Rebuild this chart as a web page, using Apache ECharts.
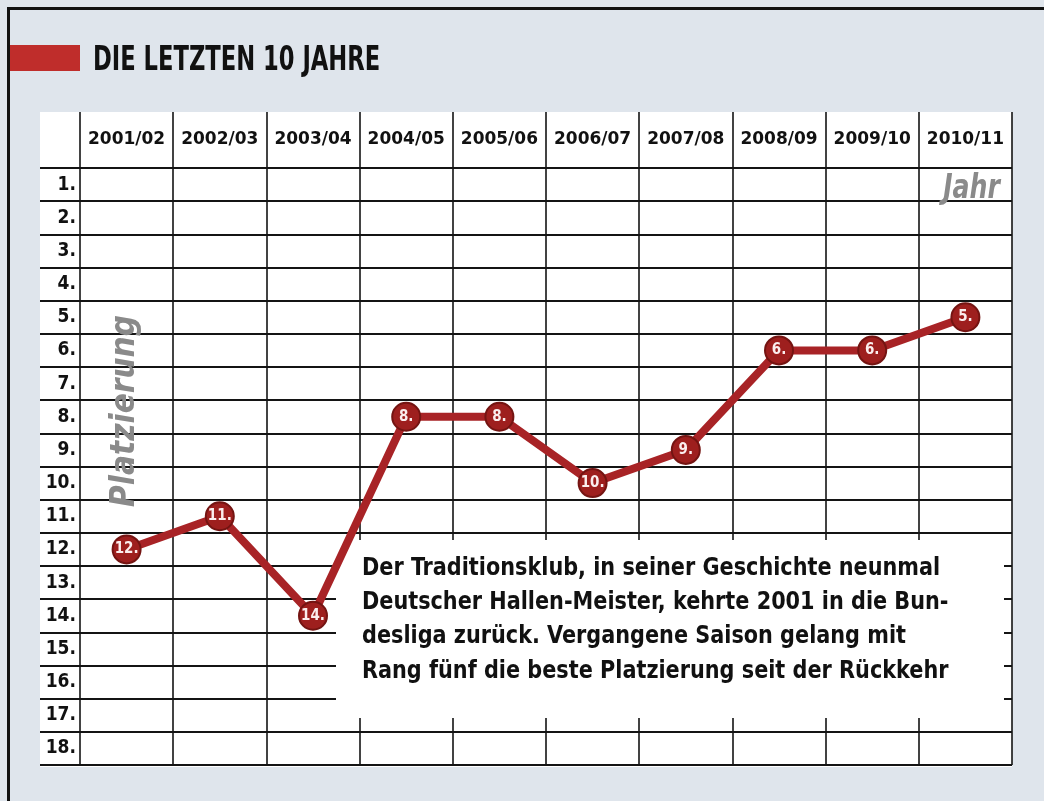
<!DOCTYPE html>
<html>
<head>
<meta charset="utf-8">
<script src="https://cdn.jsdelivr.net/npm/echarts@6/dist/echarts.min.js"></script>
<style>html,body{margin:0;padding:0;background:#dfe5ec;}#c{width:1044px;height:801px;}</style>
</head>
<body>
<div id="c"></div>
<script>
// ---- data ----
var seasons = ['2001/02','2002/03','2003/04','2004/05','2005/06','2006/07','2007/08','2008/09','2009/10','2010/11'];
var ranks = [12, 11, 14, 8, 8, 10, 9, 6, 6, 5];
var rankLabels = ['1.','2.','3.','4.','5.','6.','7.','8.','9.','10.','11.','12.','13.','14.','15.','16.','17.','18.'];
var titleText = 'DIE LETZTEN 10 JAHRE';
var noteText = 'Der Traditionsklub, in seiner Geschichte neunmal\nDeutscher Hallen-Meister, kehrte 2001 in die Bun-\ndesliga zurück. Vergangene Saison gelang mit\nRang fünf die beste Platzierung seit der Rückkehr';

// ---- layout ----
var tblLeft = 40, tblRight = 1012, tblTop = 112, rowsTop = 168, rowsBottom = 765, colLeft = 80;
var W = 1044, H = 801;
var rowH = (rowsBottom - rowsTop) / rankLabels.length;
var yMin = 0.5 - (rowsTop - tblTop) / rowH;
var condensed = '"DejaVu Sans Condensed","DejaVu Sans",sans-serif';
var lineCol = '#141414';

var chart = echarts.init(document.getElementById('c'));
chart.setOption({
  backgroundColor: '#dfe5ec',
  animation: false,
  grid: [
    {left: tblLeft, right: W - tblRight, top: rowsTop, bottom: H - rowsBottom, containLabel: false},
    {left: colLeft, right: W - tblRight, top: tblTop, bottom: H - rowsBottom, containLabel: false}
  ],
  xAxis: [
    {gridIndex: 0, type: 'value', show: false, min: 0, max: 1},
    {gridIndex: 1, type: 'category', data: seasons, position: 'top', boundaryGap: true,
     axisLine: {show: false}, axisTick: {show: false, interval: 0},
     axisLabel: {inside: true, interval: 0, margin: 28, verticalAlign: 'middle', color: '#111',
                 fontFamily: '"DejaVu Sans",sans-serif', fontWeight: 'bold', fontSize: 17},
     splitLine: {show: true, interval: 0, lineStyle: {color: lineCol, width: 1.6}}}
  ],
  yAxis: [
    {gridIndex: 0, type: 'category', data: rankLabels, inverse: true, boundaryGap: true,
     axisLine: {show: false}, axisTick: {show: false, interval: 0},
     axisLabel: {inside: true, interval: 0, align: 'right', margin: 36, color: '#111',
                 fontFamily: '"DejaVu Sans Condensed","DejaVu Sans",sans-serif', fontWeight: 'bold', fontSize: 19},
     splitLine: {show: true, interval: 0, lineStyle: {color: lineCol, width: 1.8}}},
    {gridIndex: 1, type: 'value', inverse: true, min: yMin, max: 18.5, show: false}
  ],
  series: [{
    type: 'line', xAxisIndex: 1, yAxisIndex: 1, data: ranks, z: 5,
    symbol: 'circle', symbolSize: 28,
    lineStyle: {color: '#a82326', width: 8},
    itemStyle: {color: '#9e1f1e', borderColor: '#741412', borderWidth: 2},
    label: {show: true, position: 'inside', formatter: function (p) { return p.value + '.'; },
            color: '#fbeeee', fontFamily: condensed, fontWeight: 'bold', fontSize: 15}
  }],
  graphic: [
    {type: 'rect', z: -5, silent: true, shape: {x: tblLeft, y: tblTop, width: tblRight - tblLeft, height: rowsBottom + 2 - tblTop}, style: {fill: '#ffffff'}},
    {type: 'rect', z: -4, silent: true, shape: {x: 7, y: 7, width: W - 7, height: 3}, style: {fill: '#111'}},
    {type: 'rect', z: -4, silent: true, shape: {x: 7, y: 7, width: 3, height: H - 7}, style: {fill: '#111'}},
    {type: 'rect', z: 1, silent: true, shape: {x: 10, y: 45, width: 70, height: 26}, style: {fill: '#bf2d2b'}},
    {type: 'text', z: 1, silent: true, x: 93, y: 61, scaleX: 0.74, style: {text: titleText, fill: '#111', font: 'bold 34px ' + condensed, verticalAlign: 'middle'}},
    {type: 'rect', z: 3, silent: true, shape: {x: 336, y: 540, width: 668, height: 178}, style: {fill: '#ffffff'}},
    {type: 'text', z: 4, silent: true, x: 362, y: 551, scaleX: 0.925, style: {text: noteText, fill: '#111', font: 'bold 25px ' + condensed, lineHeight: 34.3, verticalAlign: 'top'}},
    {type: 'text', z: 4, silent: true, x: 1000, y: 189, scaleX: 0.85, style: {text: 'Jahr', fill: '#8a8a8a', font: 'italic bold 33px ' + condensed, align: 'right', verticalAlign: 'middle'}},
    {type: 'text', z: 4, silent: true, x: 125, y: 411, rotation: Math.PI / 2, style: {text: 'Platzierung', fill: '#8a8a8a', font: 'italic bold 33px ' + condensed, align: 'center', verticalAlign: 'middle'}}
  ]
});
</script>
</body>
</html>
